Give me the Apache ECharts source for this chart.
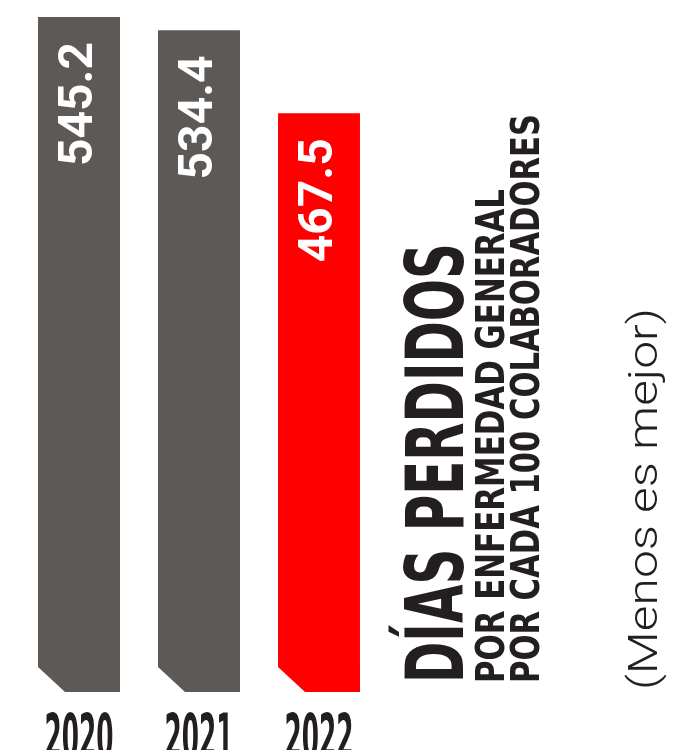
<!DOCTYPE html>
<html>
<head>
<meta charset="utf-8">
<script src="https://cdn.jsdelivr.net/npm/echarts@6/dist/echarts.min.js"></script>
<style>html,body{margin:0;padding:0;background:#fff}#c{width:673px;height:750px}</style>
</head>
<body>
<div id="c"></div>
<script>
const categories = ['2020', '2021', '2022'];
const values = [545.2, 534.4, 467.5];
const valueLabels = ['545.2', '534.4', '467.5'];
const titleLines = ['DÍAS PERDIDOS', 'POR ENFERMEDAD GENERAL', 'POR CADA 100 COLABORADORES'];
const subtitle = '(Menos es mejor)';

const GRAY = '#5d5957';
const RED = '#ff0000';
const DARK = '#231f20';
const COND = '"Liberation Sans Narrow", "DejaVu Sans Condensed", "Roboto Condensed", sans-serif';

const mctx = document.createElement('canvas').getContext('2d');
function measure(text, weight, size, family) {
  mctx.font = weight + ' ' + size + 'px ' + family;
  return mctx.measureText(text).width;
}
function fit(text, weight, size, family, target) {
  return target / measure(text, weight, size, family);
}

const chart = echarts.init(document.getElementById('c'), null, {renderer: 'canvas'});

function renderItem(params, api) {
  const i = params.dataIndex;
  const v = api.value(1);
  const top = api.coord([i, v]);
  const base = api.coord([i, 0]);
  const band = api.size([1, 0])[0];
  const w = band * 0.683;
  const l = top[0] - w / 2, r = top[0] + w / 2;
  const t = top[1], b = base[1];
  const color = i === values.length - 1 ? RED : GRAY;
  const yearSize = 62;
  const yearScale = fit(categories[i], 'bold', yearSize, COND, 69);
  return {
    type: 'group',
    children: [
      {
        type: 'polygon',
        shape: {points: [[l, t], [r, t], [r, b], [l + 27, b], [l, b - 25]]},
        style: {fill: color}
      },
      {
        type: 'text',
        x: top[0] + 1, y: t + 25,
        rotation: Math.PI / 2,
        style: {
          text: valueLabels[i], fill: '#fff', fontFamily: 'Roboto', fontWeight: 'bold',
          fontSize: 48, align: 'right', verticalAlign: 'middle'
        }
      },
      {
        type: 'text',
        x: top[0], y: b + 50,
        scaleX: yearScale,
        style: {
          text: categories[i], fill: DARK, fontFamily: COND, fontWeight: 'bold',
          fontSize: yearSize, align: 'center', verticalAlign: 'middle'
        }
      }
    ]
  };
}

const titleSpecs = [
  {x: 442, size: 81, len: 440},
  {x: 494, size: 39, len: 494},
  {x: 529, size: 39, len: 569}
];
const graphics = titleLines.map((txt, k) => ({
  type: 'text',
  x: titleSpecs[k].x, y: 683,
  rotation: Math.PI / 2,
  scaleX: fit(txt, 'bold', titleSpecs[k].size, COND, titleSpecs[k].len),
  style: {
    text: txt, fill: DARK, fontFamily: COND, fontWeight: 'bold',
    fontSize: titleSpecs[k].size, align: 'left', verticalAlign: 'middle'
  }
}));
graphics.push({
  type: 'text',
  x: 647, y: 690,
  rotation: Math.PI / 2,
  scaleX: fit(subtitle, 300, 41, 'Roboto', 382),
  style: {
    text: subtitle, fill: DARK, fontFamily: 'Roboto', fontWeight: 300,
    fontSize: 41, align: 'left', verticalAlign: 'middle'
  }
});

chart.setOption({
  animation: false,
  grid: {left: 19, width: 360, top: 17, bottom: 58},
  xAxis: {
    type: 'category', data: categories,
    axisLine: {show: false}, axisTick: {show: false}, axisLabel: {show: false}
  },
  yAxis: {
    type: 'value', min: 0, max: 'dataMax', show: false, splitLine: {show: false}
  },
  series: [{
    type: 'custom',
    renderItem: renderItem,
    data: values.map((v, i) => [i, v]),
    clip: false
  }],
  graphic: graphics
});
</script>
</body>
</html>
